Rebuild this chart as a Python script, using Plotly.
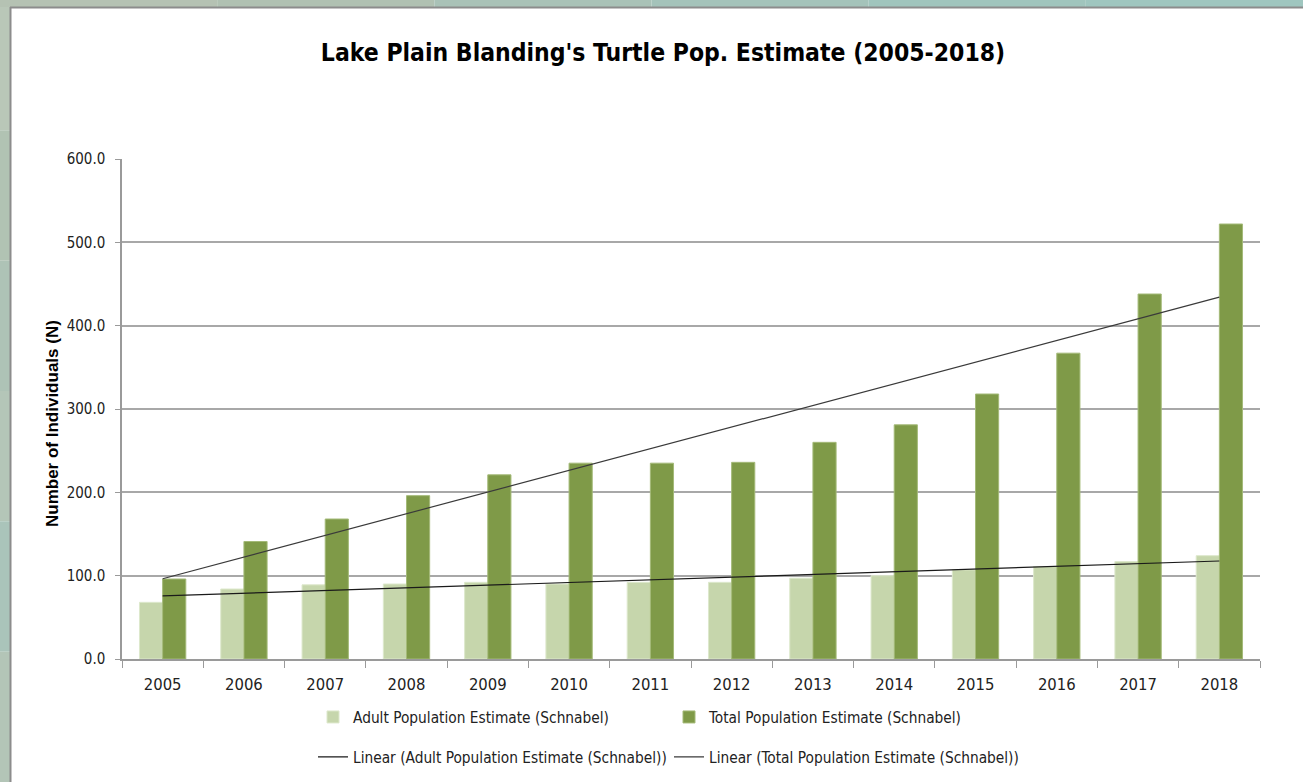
import numpy as np
import plotly.graph_objects as go

# Survey years and Schnabel population estimates
years = ["2005", "2006", "2007", "2008", "2009", "2010", "2011",
         "2012", "2013", "2014", "2015", "2016", "2017", "2018"]
adult_est = [68, 84, 89, 90, 92, 90, 92, 92, 97, 100, 107, 111, 117, 124]
total_est = [96, 141, 168, 196, 221, 235, 235, 236, 260, 281, 318, 367, 438, 522]

y_ticks = [0, 100, 200, 300, 400, 500, 600]

adult_name = "Adult Population Estimate (Schnabel)"
total_name = "Total Population Estimate (Schnabel)"

# least-squares linear trends over the year index
idx = np.arange(len(years))
adult_fit = np.polyval(np.polyfit(idx, adult_est, 1), idx)
total_fit = np.polyval(np.polyfit(idx, total_est, 1), idx)

W, H = 1303, 782
L, R, T, B = 122, 43, 159, 123
PW, PH = W - L - R, H - T - B


def px_x(p):
    return (p - L) / PW


def px_y(p):
    return (H - B - p) / PH


NARROW = "DejaVu Sans Condensed, Lato, sans-serif"

fig = go.Figure()
fig.add_bar(x=years, y=adult_est, name=adult_name,
            marker=dict(color="#c6d6ac", line=dict(color="#dde8cc", width=1)),
            legend="legend")
fig.add_bar(x=years, y=total_est, name=total_name,
            marker=dict(color="#7f9a48", line=dict(color="#a4ba78", width=1)),
            legend="legend")
fig.add_scatter(x=years, y=adult_fit, mode="lines",
                name="Linear (" + adult_name + ")",
                line=dict(color="#1a1a1a", width=1.2), legend="legend2")
fig.add_scatter(x=years, y=total_fit, mode="lines",
                name="Linear (" + total_name + ")",
                line=dict(color="#3a3a3a", width=1.2), legend="legend2")

# framed backdrop: textured strip on the left and top edges
shapes = []
left_cols = ["#b9c7b8", "#b1c3b3", "#aec3b6", "#b4c6b8", "#aac4ba", "#b3c5b7"]
n = len(left_cols)
for i, c in enumerate(left_cols):
    shapes.append(dict(type="rect", xref="paper", yref="paper", layer="below",
                       x0=px_x(0), x1=px_x(10),
                       y0=px_y(H * (i + 1) / n), y1=px_y(H * i / n),
                       fillcolor=c, line=dict(width=0)))
top_cols = ["#b5c2b3", "#b0c1b2", "#a9c2b7", "#a4c3ba", "#a0c5bd", "#9fc6bf"]
n = len(top_cols)
for i, c in enumerate(top_cols):
    shapes.append(dict(type="rect", xref="paper", yref="paper", layer="below",
                       x0=px_x(W * i / n), x1=px_x(W * (i + 1) / n),
                       y0=px_y(7), y1=px_y(0),
                       fillcolor=c, line=dict(width=0)))
shapes.append(dict(type="line", xref="paper", yref="paper",
                   x0=px_x(10.5), x1=px_x(10.5), y0=px_y(H), y1=px_y(7),
                   line=dict(color="#8c8c8c", width=2)))
shapes.append(dict(type="line", xref="paper", yref="paper",
                   x0=px_x(10), x1=px_x(W), y0=px_y(7.5), y1=px_y(7.5),
                   line=dict(color="#8c8c8c", width=2)))

fig.update_layout(
    width=W, height=H,
    margin=dict(l=L, r=R, t=T, b=B, autoexpand=False),
    paper_bgcolor="white", plot_bgcolor="white",
    barmode="group", bargap=0.43, bargroupgap=0,
    title=dict(text="<b>Lake Plain Blanding's Turtle Pop. Estimate (2005-2018)</b>",
               x=663 / W, xanchor="center", xref="container",
               y=1 - 52 / H, yanchor="middle", yref="container",
               font=dict(family=NARROW, size=24.5, color="#000000")),
    font=dict(family=NARROW, size=16, color="#222222"),
    xaxis=dict(type="category", showgrid=False, ticks="outside",
               tickson="boundaries", ticklen=7, tickcolor="#9a9a9a",
               showline=True, linecolor="#9a9a9a", linewidth=1.5,
               ticklabelstandoff=9,
               tickfont=dict(family=NARROW, size=16.5, color="#222222")),
    yaxis=dict(range=[0, 600], tickvals=y_ticks, tickformat=".1f",
               showgrid=True, gridcolor="#a8a8a8", gridwidth=1.5,
               ticks="outside", ticklen=5, tickcolor="#9a9a9a",
               showline=True, linecolor="#9a9a9a", linewidth=1.5,
               zeroline=False, ticklabelstandoff=7,
               tickfont=dict(family=NARROW, size=15, color="#222222")),
    legend=dict(orientation="h", x=px_x(313), xanchor="left",
                y=px_y(717), yanchor="middle",
                entrywidth=311, entrywidthmode="pixels",
                font=dict(family=NARROW, size=15.3, color="#222222"),
                bgcolor="rgba(0,0,0,0)", traceorder="normal"),
    legend2=dict(orientation="h", x=px_x(313), xanchor="left",
                 y=px_y(757), yanchor="middle",
                 entrywidth=311, entrywidthmode="pixels",
                 font=dict(family=NARROW, size=15.3, color="#222222"),
                 bgcolor="rgba(0,0,0,0)", traceorder="normal"),
    shapes=shapes,
    annotations=[dict(text="<b>Number of Individuals (N)</b>",
                      xref="paper", yref="paper", x=px_x(52), y=px_y(424),
                      xanchor="center", yanchor="middle", textangle=-90,
                      showarrow=False,
                      font=dict(family="Liberation Sans, Arial, sans-serif",
                                size=17, color="#000000"))],
)

fig.write_html("out.html")
